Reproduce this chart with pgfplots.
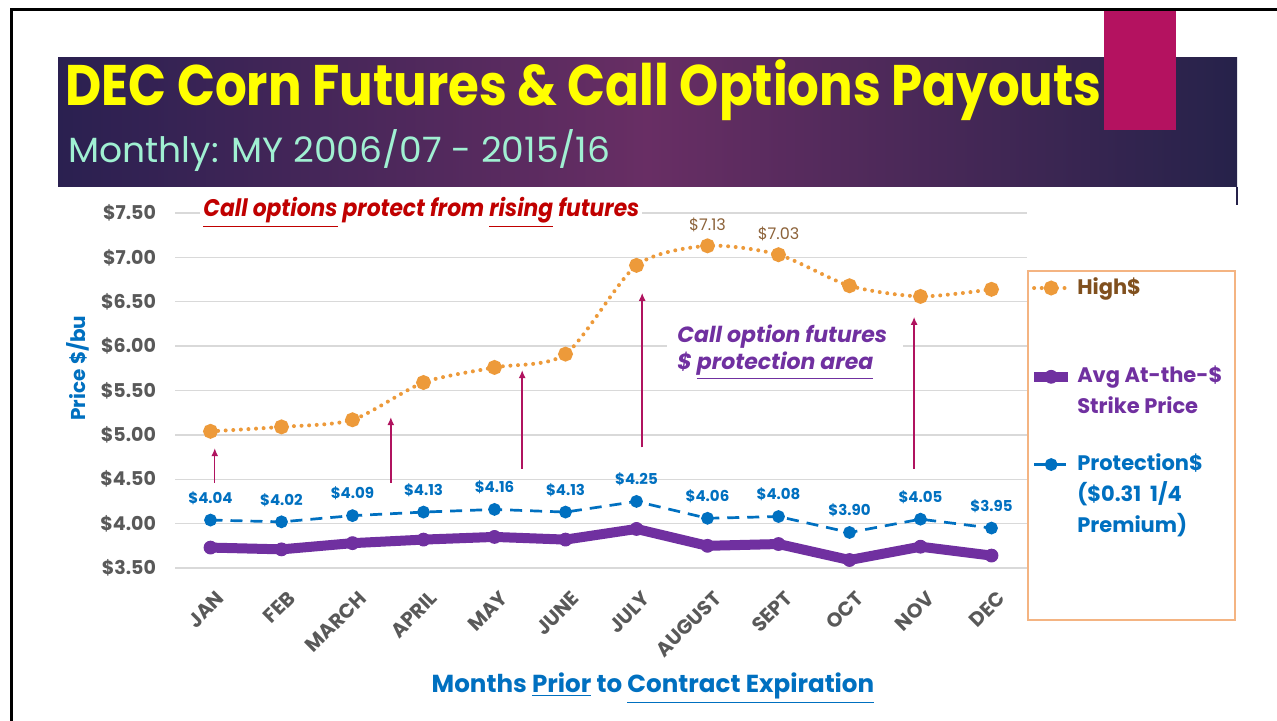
\documentclass[border=0pt]{standalone}
\usepackage{pgfplots}
\pgfplotsset{compat=1.18}
\usepackage{pgfplotstable}
\usepackage{fontspec}
\setmainfont{Poppins}
\usepackage{graphicx}
\usetikzlibrary{arrows.meta}

\definecolor{bannerL}{RGB}{42,32,80}
\definecolor{bannerM}{RGB}{104,46,100}
\definecolor{bannerR}{RGB}{38,34,74}
\definecolor{mint}{RGB}{160,240,210}
\definecolor{magent}{RGB}{180,18,96}
\definecolor{orng}{RGB}{237,154,58}
\definecolor{purp}{RGB}{112,48,160}
\definecolor{blu}{RGB}{0,112,192}
\definecolor{grytxt}{RGB}{89,89,89}
\definecolor{gridg}{RGB}{217,217,217}
\definecolor{redtxt}{RGB}{192,0,0}
\definecolor{arrowc}{RGB}{176,19,95}
\definecolor{brn}{RGB}{128,80,30}
\definecolor{brnlab}{RGB}{140,98,57}
\definecolor{legbord}{RGB}{244,180,130}
\definecolor{ylw}{RGB}{255,255,0}

\pgfplotstableread{
m high avg prot
0 5.04 3.73 4.04
1 5.09 3.71 4.02
2 5.17 3.78 4.09
3 5.59 3.82 4.13
4 5.76 3.85 4.16
5 5.91 3.82 4.13
6 6.91 3.94 4.25
7 7.13 3.75 4.06
8 7.03 3.77 4.08
9 6.68 3.59 3.90
10 6.56 3.74 4.05
11 6.64 3.64 3.95
}\datatable

\begin{document}
\begin{tikzpicture}[x=0.5pt,y=0.5pt]
\useasboundingbox (0,0) rectangle (1277,721);
\fill[white] (0,0) rectangle (1277,721);
% banner
\shade[left color=bannerL, right color=bannerR, middle color=bannerM] (58,534) rectangle (1237,663);
\node[anchor=base west, inner sep=0pt, text=ylw] at (65,615)
  {\resizebox{518pt}{\height}{\fontsize{28.6}{30}\selectfont\bfseries DEC Corn Futures \& Call Options Payouts}};
\node[anchor=base west, inner sep=0pt, text=mint] at (68,558)
  {\resizebox{271pt}{\height}{\fontsize{17.5}{19}\selectfont Monthly: MY 2006/07 - 2015/16}};
\fill[magent] (1104,591) rectangle (1176,711);
\draw[line width=1.5pt] (11,0) -- (11,711) -- (1277,711);
\draw[bannerR, line width=0.6pt] (1237,534) -- (1237,516);

\begin{axis}[
  at={(87.5pt,76.5pt)}, anchor=south west,
  width=426pt, height=177.5pt, scale only axis,
  xmin=-0.5, xmax=11.5, ymin=3.5, ymax=7.5,
  axis line style={draw=none},
  major tick length=0pt,
  ymajorgrids, grid style={gridg, line width=0.7pt},
  xtick={0,...,11},
  xticklabels={JAN,FEB,MARCH,APRIL,MAY,JUNE,JULY,AUGUST,SEPT,OCT,NOV,DEC},
  ytick={3.5,4,4.5,5,5.5,6,6.5,7,7.5},
  yticklabels={\$3.50,\$4.00,\$4.50,\$5.00,\$5.50,\$6.00,\$6.50,\$7.00,\$7.50},
  yticklabel style={xshift=-6pt, font=\fontsize{9.5}{11}\selectfont\bfseries, text=grytxt},
  xticklabel style={xshift=2.5pt, yshift=-6pt, rotate=45, anchor=north east, font=\fontsize{10}{12}\selectfont\bfseries, text=grytxt},
  xlabel={Months \underline{Prior} to \underline{Contract Expiration}},
  xlabel style={at={(axis description cs:0.561,-0.338)}, anchor=center, font=\fontsize{12.3}{14}\selectfont\bfseries, text=blu},
  ylabel={Price \$/bu},
  ylabel style={at={(axis description cs:-0.114,0.563)}, anchor=center, rotate=0, font=\fontsize{10}{12}\selectfont\bfseries, text=blu},
  clip=false,
  legend style={at={(axis description cs:1.002,0.829)}, anchor=north west, draw=none, fill=none,
    font=\fontsize{10.5}{15.5}\selectfont\bfseries, row sep=31pt, inner sep=0pt,
    /tikz/every odd column/.append style={column sep=0pt},
    cells={anchor=west}},
  legend cell align=left,
]
\addplot[orng, line width=2pt, dash pattern=on 0pt off 3.8pt, line cap=round, smooth, tension=0.45,
  mark=*, mark size=2.7pt, mark options={solid, fill=orng, draw=orng}]
  table[x=m, y=high] {\datatable};
\addlegendentry{\textcolor{brn}{High\$}}
\addplot[purp, line width=5pt, line join=round,
  mark=*, mark size=3.2pt, mark options={solid, fill=purp, draw=purp, line width=0.5pt}]
  table[x=m, y=avg] {\datatable};
\addlegendentry{\textcolor{purp}{\vphantom{Ag}\smash{\begin{tabular}[t]{@{}l@{}}Avg At-the-\$\\Strike Price\end{tabular}}}}
\addplot[blu, line width=1.35pt, dash pattern=on 6pt off 4pt,
  mark=*, mark size=2.5pt, mark options={solid, fill=blu, draw=blu},
  nodes near coords={\$\pgfmathprintnumber[fixed,fixed zerofill,precision=2,assume math mode=true]{\pgfplotspointmeta}},
  point meta=y,
  every node near coord/.append style={anchor=center, yshift=11pt, font=\fontsize{7.5}{9}\selectfont\bfseries, text=blu}]
  table[x=m, y=prot] {\datatable};
\addlegendentry{\textcolor{blu}{\vphantom{Ag}\smash{\begin{tabular}[t]{@{}l@{}}Protection\$\\(\$0.31\ \ 1/4\\Premium)\end{tabular}}}}
\addplot[draw=none, mark=none, forget plot,
  nodes near coords={\$\pgfmathprintnumber[fixed,fixed zerofill,precision=2,assume math mode=true]{\pgfplotspointmeta}},
  point meta=y,
  every node near coord/.append style={anchor=center, yshift=10.5pt, font=\fontsize{8}{9}\selectfont, text=brnlab}]
  coordinates {(7,7.13) (8,7.03)};
% arrows
\draw[arrowc, line width=0.7pt, -{Latex[length=4pt,width=3.5pt]}] (axis cs:0.06,4.46) -- (axis cs:0.06,4.85);
\draw[arrowc, line width=0.7pt, -{Latex[length=4pt,width=3.5pt]}] (axis cs:2.54,4.46) -- (axis cs:2.54,5.20);
\draw[arrowc, line width=0.7pt, -{Latex[length=4pt,width=3.5pt]}] (axis cs:4.39,4.62) -- (axis cs:4.39,5.73);
\draw[arrowc, line width=0.7pt, -{Latex[length=4pt,width=3.5pt]}] (axis cs:6.08,4.86) -- (axis cs:6.08,6.60);
\draw[arrowc, line width=0.7pt, -{Latex[length=4pt,width=3.5pt]}] (axis cs:9.91,4.62) -- (axis cs:9.91,6.33);
\end{axis}

% legend box
\draw[legbord, line width=0.6pt] (1028,450) rectangle (1235,101);
% annotations
\node[anchor=base west, inner sep=1.5pt, fill=white, text=redtxt] at (200,504)
  {\resizebox{218pt}{\height}{\fontsize{12}{14}\selectfont\bfseries\itshape \underline{Call options} protect from \underline{rising} futures}};
\fill[white] (667,403) rectangle (903,341);
\node[anchor=base west, inner sep=0pt, text=purp] at (677,378)
  {\fontsize{11}{13}\selectfont\bfseries\itshape Call option futures};
\node[anchor=base west, inner sep=0pt, text=purp] at (677,351)
  {\fontsize{11}{13}\selectfont\bfseries\itshape \$ \underline{protection area}};
\end{tikzpicture}
\end{document}
